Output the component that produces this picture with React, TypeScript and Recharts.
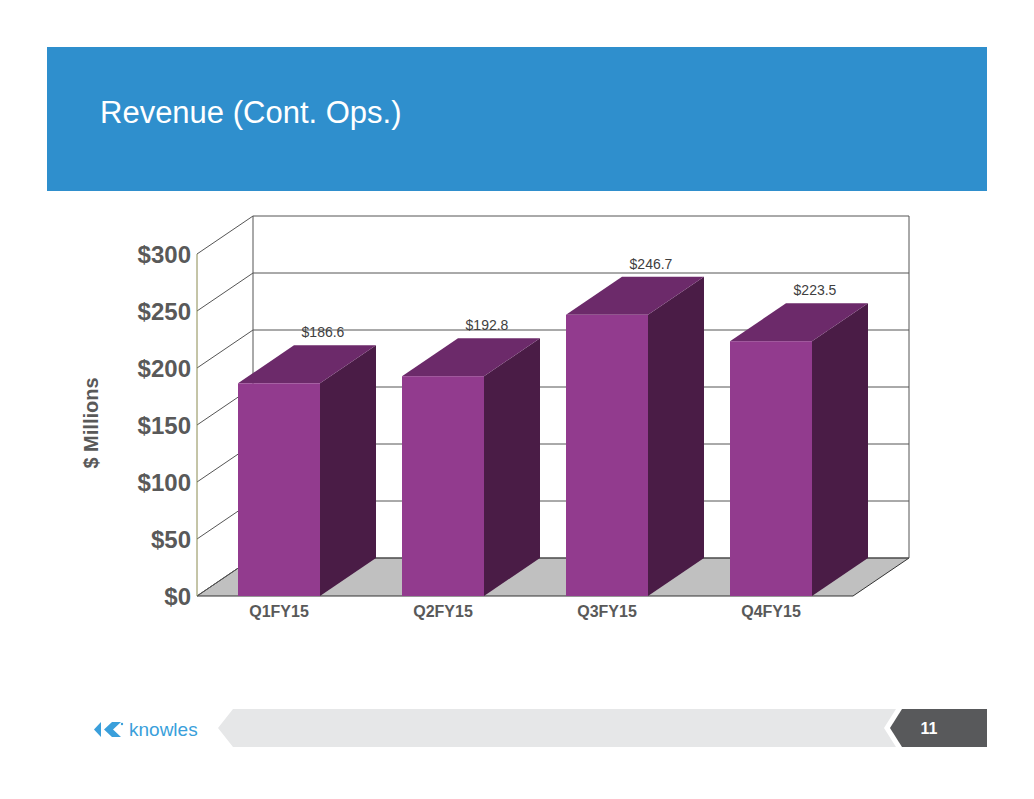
import React from 'react';
import { BarChart, Bar, XAxis, YAxis, CartesianGrid, LabelList } from 'recharts';

const quarters = ['Q1FY15', 'Q2FY15', 'Q3FY15', 'Q4FY15'];
const revenue = [186.6, 192.8, 246.7, 223.5];
const valueLabels = ['$186.6', '$192.8', '$246.7', '$223.5'];
const yTicks = [0, 50, 100, 150, 200, 250, 300];
const yTickLabels = ['$0', '$50', '$100', '$150', '$200', '$250', '$300'];

const data = quarters.map((q, i) => ({ quarter: q, revenue: revenue[i], label: valueLabels[i] }));

const W = 1034;
const H = 799;
const MARGIN = { top: 254, right: 181, bottom: 173, left: 77 };
const Y_AXIS_W = 120;
const X_AXIS_H = 30;
const PLOT_TOP = MARGIN.top;
const PLOT_BOTTOM = H - MARGIN.bottom - X_AXIS_H;
// depth of the fake 3d box
const DX = 56;
const DY = -38;

const FONT = '"Liberation Sans", Arial, Helvetica, sans-serif';
const AXIS_TEXT = '#595959';
const WALL_LINE = '#555555';

// back wall, left wall and floor, drawn per horizontal grid line
function WallLine(props: any) {
  const { x1, y1, x2 } = props;
  const top = props.y ?? PLOT_TOP;
  const bottom = props.y != null && props.height != null ? props.y + props.height : PLOT_BOTTOM;
  const isBottom = Math.abs(y1 - bottom) < 1;
  const isTop = Math.abs(y1 - top) < 1;
  return (
    <g>
      {isBottom && (
        <polygon
          points={`${x1},${y1} ${x2},${y1} ${x2 + DX},${y1 + DY} ${x1 + DX},${y1 + DY}`}
          fill="#c0c0c0"
          stroke="#333333"
          strokeWidth={1}
        />
      )}
      <line x1={x1} y1={y1} x2={x1 + DX} y2={y1 + DY} stroke={WALL_LINE} strokeWidth={1} />
      <line x1={x1 + DX} y1={y1 + DY} x2={x2 + DX} y2={y1 + DY} stroke={WALL_LINE} strokeWidth={1} />
      {isTop && (
        <>
          <line x1={x1 + DX} y1={top + DY} x2={x1 + DX} y2={bottom + DY} stroke={WALL_LINE} strokeWidth={1} />
          <line x1={x2 + DX} y1={top + DY} x2={x2 + DX} y2={bottom + DY} stroke={WALL_LINE} strokeWidth={1} />
        </>
      )}
    </g>
  );
}

function Bar3D(props: any) {
  const { x, y, width, height } = props;
  if (!height) return null;
  const r = x + width;
  const b = y + height;
  return (
    <g>
      <polygon points={`${r},${y} ${r + DX},${y + DY} ${r + DX},${b + DY} ${r},${b}`} fill="#4a1c46" />
      <polygon points={`${x},${y} ${x + DX},${y + DY} ${r + DX},${y + DY} ${r},${y}`} fill="#6c2a6a" />
      <rect x={x} y={y} width={width} height={height} fill="#923b8e" />
    </g>
  );
}

function ValueLabel(props: any) {
  const { x, y, width, value } = props;
  return (
    <text x={x + width / 2 + 44} y={y + DY - 8} textAnchor="middle" fontSize={14} fill="#404040" fontFamily={FONT}>
      {value}
    </text>
  );
}

function YTick(props: any) {
  const { x, y, payload } = props;
  const idx = yTicks.indexOf(payload.value);
  return (
    <text x={x} y={y} dy="0.36em" textAnchor="end" fontSize={24} fontWeight="bold" fill={AXIS_TEXT} fontFamily={FONT}>
      {idx >= 0 ? yTickLabels[idx] : payload.value}
    </text>
  );
}

function XTick(props: any) {
  const { x, y, payload } = props;
  return (
    <text x={x} y={y + 21} textAnchor="middle" fontSize={16} fontWeight="bold" fill={AXIS_TEXT} fontFamily={FONT}>
      {payload.value}
    </text>
  );
}

function YTitle(props: any) {
  const vb = props.viewBox || {};
  const cx = (vb.x ?? MARGIN.left) + 13.5;
  const cy = (vb.y ?? PLOT_TOP) + (vb.height ?? PLOT_BOTTOM - PLOT_TOP) / 2 - 2;
  return (
    <text
      x={cx}
      y={cy}
      dy="0.35em"
      transform={`rotate(-90, ${cx}, ${cy})`}
      textAnchor="middle"
      fontSize={20}
      fontWeight="bold"
      fill={AXIS_TEXT}
      fontFamily={FONT}
    >
      $ Millions
    </text>
  );
}

function Slide() {
  return (
    <svg width={W} height={H} style={{ position: 'absolute', left: 0, top: 0 }}>
      <rect x={47} y={47} width={940} height={144} fill="#2f8fcd" />
      <text x={100} y={123} fontSize={31} fill="#ffffff" fontFamily={FONT}>
        Revenue (Cont. Ops.)
      </text>

      {/* footer */}
      <polygon points="218,728 233,709 896,709 884,728 896,747 233,747" fill="#e6e7e8" />
      <polygon points="902,709 987,709 987,747 902,747 890,728" fill="#58595b" />
      <text x={929} y={734} textAnchor="middle" fontSize={16} fontWeight="bold" fill="#ffffff" fontFamily={FONT}>
        11
      </text>

      {/* knowles logo */}
      <polygon points="101,722 101,737 94,729.5" fill="#3a9fdb" />
      <polygon points="112,722 121,722 113,729.5 121,737 112,737 104,729.5" fill="#3a9fdb" />
      <circle cx={122} cy={724} r={1.2} fill="#3a9fdb" />
      <text x={129} y={736} fontSize={19} fill="#3a9fdb" fontFamily={FONT}>
        knowles
      </text>
    </svg>
  );
}

export default function App() {
  return (
    <div style={{ position: 'absolute', left: 0, top: 0, width: W, height: H, background: '#ffffff' }}>
      <Slide />
      <div style={{ position: 'absolute', left: 0, top: 0 }}>
        <BarChart width={W} height={H} data={data} margin={MARGIN}>
          <CartesianGrid vertical={false} horizontal={WallLine} />
          <XAxis
            dataKey="quarter"
            height={X_AXIS_H}
            axisLine={false}
            tickLine={false}
            tickSize={0}
            tickMargin={0}
            interval={0}
            tick={XTick}
          />
          <YAxis
            type="number"
            domain={[0, 300]}
            ticks={yTicks}
            width={Y_AXIS_W}
            axisLine={{ stroke: '#8a8a50', strokeWidth: 1 }}
            tickLine={false}
            tickSize={0}
            tickMargin={6}
            tick={YTick}
            label={<YTitle />}
          />
          <Bar dataKey="revenue" barSize={82} shape={Bar3D} isAnimationActive={false}>
            <LabelList dataKey="label" content={ValueLabel} />
          </Bar>
        </BarChart>
      </div>
    </div>
  );
}
